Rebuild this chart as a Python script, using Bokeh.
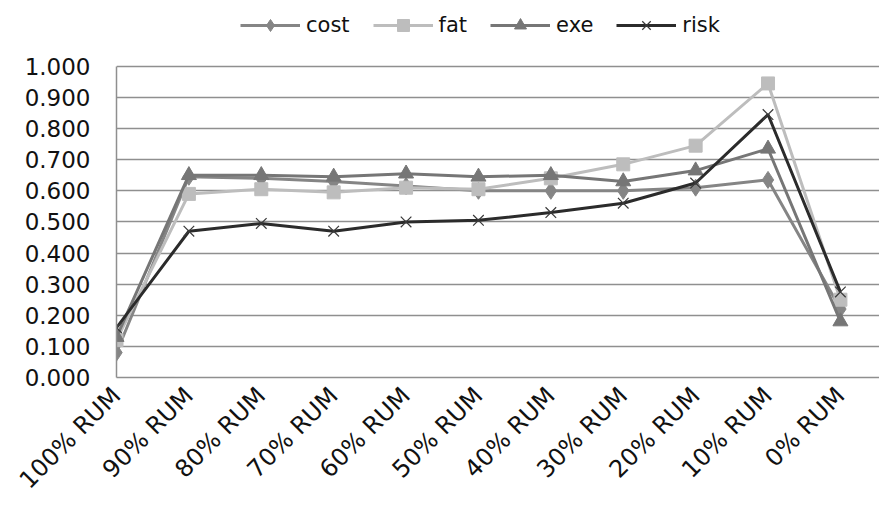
from bokeh.plotting import figure
from bokeh.models import Range1d, FixedTicker, Legend, LegendItem, NumeralTickFormatter
from bokeh.embed import file_html
from bokeh.resources import INLINE

# Categories along the x axis
categories = ["100% RUM", "90% RUM", "80% RUM", "70% RUM", "60% RUM", "50% RUM",
              "40% RUM", "30% RUM", "20% RUM", "10% RUM", "0% RUM"]

# Series values
cost = [0.08, 0.645, 0.64, 0.63, 0.615, 0.60, 0.60, 0.60, 0.61, 0.635, 0.22]
fat = [0.12, 0.59, 0.605, 0.595, 0.61, 0.605, 0.64, 0.685, 0.745, 0.945, 0.25]
exe = [0.13, 0.65, 0.65, 0.645, 0.655, 0.645, 0.65, 0.63, 0.665, 0.735, 0.18]
risk = [0.16, 0.47, 0.495, 0.47, 0.50, 0.505, 0.53, 0.56, 0.625, 0.845, 0.275]

y_ticks = [0.0, 0.1, 0.2, 0.3, 0.4, 0.5, 0.6, 0.7, 0.8, 0.9, 1.0]

xs = list(range(len(categories)))
FONT = "DejaVu Sans"

# The frame runs up to the top edge; the space above 1.0 holds the legend
p = figure(width=879, height=507, output_backend="svg", toolbar_location=None,
           x_range=Range1d(0, 10.54), y_range=Range1d(0, 1.2115),
           min_border_left=116, min_border_right=0, min_border_top=0,
           min_border_bottom=129)
p.outline_line_color = None
p.background_fill_color = "white"
p.border_fill_color = "white"

# Grid
p.xgrid.grid_line_color = None
p.ygrid.grid_line_color = "#8f8f8f"
p.ygrid.grid_line_width = 1.5

# Y axis
p.yaxis.ticker = FixedTicker(ticks=y_ticks)
p.yaxis.bounds = (0, 1.0)
p.yaxis.formatter = NumeralTickFormatter(format="0.000")
p.yaxis.axis_line_color = "#8f8f8f"
p.yaxis.axis_line_width = 1.5
p.yaxis.major_tick_out = 0
p.yaxis.major_tick_in = 0
p.yaxis.minor_tick_line_color = None
p.yaxis.major_label_standoff = 26
p.yaxis.major_label_text_font = FONT
p.yaxis.major_label_text_font_size = "23px"
p.yaxis.major_label_text_color = "#111111"

# X axis
p.xaxis.ticker = FixedTicker(ticks=xs)
p.xaxis.major_label_overrides = {i: c for i, c in enumerate(categories)}
p.xaxis.major_label_orientation = 0.785398
p.xaxis.axis_line_color = "#8f8f8f"
p.xaxis.axis_line_width = 1.5
p.xaxis.major_tick_out = 0
p.xaxis.major_tick_in = 0
p.xaxis.minor_tick_line_color = None
p.xaxis.major_label_standoff = 14
p.xaxis.major_label_text_font = FONT
p.xaxis.major_label_text_font_size = "24px"
p.xaxis.major_label_text_color = "#111111"

# Series
c_cost, c_fat, c_exe, c_risk = "#858585", "#bdbdbd", "#767676", "#2b2b2b"

l1 = p.line(xs, cost, line_color=c_cost, line_width=3)
m1 = p.scatter(xs, cost, marker="diamond", size=17, fill_color=c_cost, line_color=c_cost)
l2 = p.line(xs, fat, line_color=c_fat, line_width=3)
m2 = p.scatter(xs, fat, marker="square", size=13, fill_color=c_fat, line_color=c_fat)
l3 = p.line(xs, exe, line_color=c_exe, line_width=3)
m3 = p.scatter(xs, exe, marker="triangle", size=15, fill_color=c_exe, line_color=c_exe)
l4 = p.line(xs, risk, line_color=c_risk, line_width=3)
m4 = p.scatter(xs, risk, marker="x", size=15, line_color="#3a3a3a", line_width=1.2)

# Horizontal legend across the top, placed in screen units from the frame's bottom-left
legend = Legend(items=[
    LegendItem(label="cost", renderers=[l1, m1]),
    LegendItem(label="fat", renderers=[l2, m2]),
    LegendItem(label="exe", renderers=[l3, m3]),
    LegendItem(label="risk", renderers=[l4, m4]),
], orientation="horizontal", location=(124, 337))
legend.label_text_font = FONT
legend.label_text_font_size = "21px"
legend.label_text_color = "#111111"
legend.glyph_width = 60
legend.glyph_height = 30
legend.spacing = 23
legend.label_standoff = 6
legend.padding = 2
legend.margin = 0
legend.border_line_color = None
legend.background_fill_alpha = 0
p.add_layout(legend, "center")

open("out.html", "w").write(file_html(p, INLINE))
